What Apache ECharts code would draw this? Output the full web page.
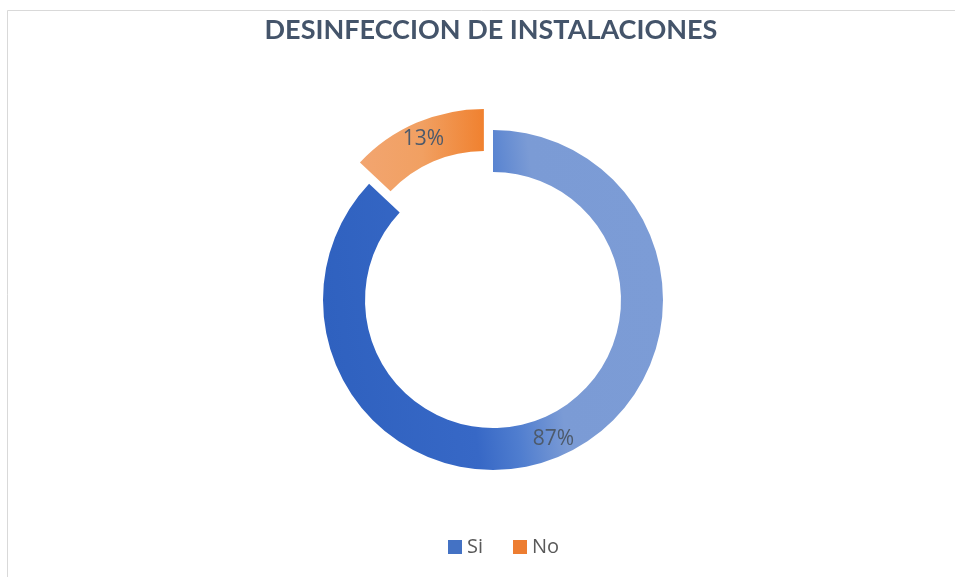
<!DOCTYPE html>
<html><head><meta charset="utf-8">
<script src="https://cdn.jsdelivr.net/npm/echarts@6/dist/echarts.min.js"></script>
<style>html,body{margin:0;padding:0;background:#fff}#c{width:955px;height:577px}</style>
</head><body><div id="c"></div>
<script>
const titleText = 'DESINFECCION DE INSTALACIONES';
const categories = ['Si', 'No'];
const values = [87, 13];
const legendColors = ['#4472c4', '#ed7d31'];

const chart = echarts.init(document.getElementById('c'));
const gradients = [
  new echarts.graphic.LinearGradient(0, 0.565, 1, 0.435, [
    {offset: 0, color: '#2f61bf'},
    {offset: 0.40, color: '#3768c6'},
    {offset: 0.52, color: '#4f7dcf'},
    {offset: 0.66, color: '#7b9bd5'},
    {offset: 1, color: '#7c9cd6'}
  ]),
  new echarts.graphic.LinearGradient(0, 0, 1, 0, [
    {offset: 0, color: '#f2a570'},
    {offset: 0.5, color: '#f1a062'},
    {offset: 1, color: '#f0812f'}
  ])
];
chart.setOption({
  backgroundColor: '#fff',
  animation: false,
  graphic: [{type: 'rect', shape: {x: 7.5, y: 10.5, width: 960, height: 580}, style: {fill: 'none', stroke: '#d9d9d9', lineWidth: 1}}],
  title: {text: titleText, left: 486, top: 12, textAlign: 'center',
    textStyle: {fontFamily: 'Lato', fontWeight: 'bold', fontSize: 27, color: '#44546a'}},
  legend: {bottom: 15, left: 443, itemWidth: 14, itemHeight: 14, itemGap: 30,
    icon: 'rect', textStyle: {fontFamily: 'Open Sans', fontSize: 20, color: '#595959'},
    data: categories.map((c, i) => ({name: c, itemStyle: {color: legendColors[i]}}))},
  series: [{
    type: 'pie', center: [493, 300], radius: [128, 170], startAngle: 90, clockwise: true,
    selectedMode: 'single', selectedOffset: 23,
    label: {position: 'inside', formatter: '{d}%', fontFamily: 'Open Sans', fontSize: 21, color: '#4d5a6b'},
    labelLine: {show: false},
    emphasis: {disabled: true},
    data: categories.map((c, i) => ({name: c, value: values[i], selected: i === 1,
      itemStyle: {color: gradients[i]}}))
  }]
});
</script></body></html>
